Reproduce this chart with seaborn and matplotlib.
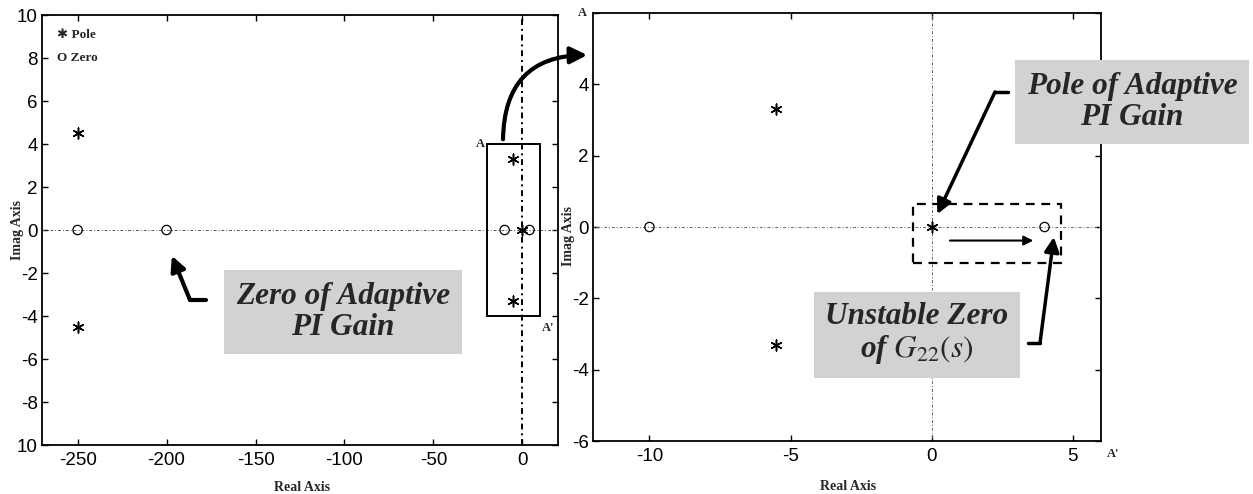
import numpy as np
import pandas as pd
import seaborn as sns
import matplotlib.pyplot as plt
from matplotlib.patches import Rectangle, FancyArrowPatch
from matplotlib.lines import Line2D

# poles and zeros of the loop (real, imag)
pole_re = [-250, -250, -5.5, -5.5, 0]
pole_im = [4.5, -4.5, 3.3, -3.3, 0]
zero_re = [-250, -200, -10, 4]
zero_im = [0, 0, 0, 0]

left_xticks = [-250, -200, -150, -100, -50, 0]
left_yticks = [-10, -8, -6, -4, -2, 0, 2, 4, 6, 8, 10]
left_ylabels = ['10', '-8', '-6', '-4', '-2', '0', '2', '4', '6', '8', '10']
right_xticks = [-10, -5, 0, 5]
right_yticks = [-6, -4, -2, 0, 2, 4, 6]
right_ylabels = ['-6', '-4', '-2', '0', '2', '4', '']

poles = pd.DataFrame({"re": pole_re, "im": pole_im})
zeros = pd.DataFrame({"re": zero_re, "im": zero_im})

sns.set_theme(style="white")
plt.rcParams['font.family'] = ['Liberation Sans Narrow', 'Liberation Sans', 'DejaVu Sans']
plt.rcParams['mathtext.fontset'] = 'stix'
plt.rcParams['axes.unicode_minus'] = False

W, H = 1253, 494
fig = plt.figure(figsize=(W / 100, H / 100), dpi=100)


def fx(x, y):
    return (x / W, 1 - y / H)


SERIF = ['Liberation Serif', 'DejaVu Serif']
SYM = ['Liberation Serif', 'DejaVu Sans']

ax1 = fig.add_axes([42 / W, 1 - 445 / H, (558 - 42) / W, (445 - 15) / H])
ax2 = fig.add_axes([593 / W, 1 - 441 / H, (1101 - 593) / W, (441 - 13) / H])


def draw_pz(ax):
    sns.scatterplot(data=poles, x="re", y="im", ax=ax, marker=(6, 2, 0),
                    s=60, color="black", linewidth=1.1, zorder=4, legend=False)
    sns.scatterplot(data=zeros, x="re", y="im", ax=ax, marker="o", s=45,
                    facecolor="none", edgecolor="black", linewidth=0.9,
                    zorder=4, legend=False)


draw_pz(ax1)
draw_pz(ax2)

ax1.set_xlim(-270, 20)
ax1.set_ylim(-10, 10)
ax1.set_xticks(left_xticks)
ax1.set_yticks(left_yticks)
ax1.set_yticklabels(left_ylabels)
ax1.axhline(0, color="#555555", lw=0.7, ls=(0, (3, 2, 1, 2)), zorder=1)
ax1.axvline(0, color="black", lw=1.4, ls=(0, (3, 2, 1, 2)), zorder=1)

ax2.set_xlim(-12, 6)
ax2.set_ylim(-6, 6)
ax2.set_xticks(right_xticks)
ax2.set_yticks(right_yticks)
ax2.set_yticklabels(right_ylabels)
ax2.axhline(0, color="#666666", lw=0.7, ls=(0, (1, 2, 3, 2)), zorder=1)
ax2.axvline(0, color="#666666", lw=0.7, ls=(0, (1, 2, 3, 2)), zorder=1)

for ax in (ax1, ax2):
    for sp in ax.spines.values():
        sp.set_color("black")
        sp.set_linewidth(1.3)
    ax.tick_params(direction="in", length=4, width=1, colors="black",
                   top=True, right=True, bottom=True, left=True,
                   labelsize=13.5, pad=5)
    ax.tick_params(axis="y", pad=3)
    ax.set_xlabel("Real Axis", family=SERIF, fontweight="bold", fontsize=10, va="center")
    ax.set_ylabel("Imag Axis", family=SERIF, fontweight="bold", fontsize=10,
                  va="center", ha="center")

ax1.xaxis.set_label_coords(0.504, -0.098)
ax1.yaxis.set_label_coords(-0.048, 0.5)
ax2.xaxis.set_label_coords(0.502, -0.107)
ax2.yaxis.set_label_coords(-0.048, 0.48)

# legend-like text
ax1.text(0.029, 0.953, "✱ Pole", transform=ax1.transAxes, family=SYM,
         fontweight="bold", fontsize=9.5, va="center")
ax1.text(0.029, 0.9, "O Zero", transform=ax1.transAxes, family=SERIF,
         fontweight="bold", fontsize=9.5, va="center")

# zoom window A-A' in left plot
ax1.add_patch(Rectangle((-20, -4), 30, 8, fill=False, ec="black", lw=1.4, zorder=3))
ax1.text(-21, 4, "A", family=SERIF, fontweight="bold", fontsize=9, ha="right", va="center")
ax1.text(11, -4.3, "A'", family=SERIF, fontweight="bold", fontsize=9, ha="left", va="top")
ax2.text(-12.2, 6, "A", family=SERIF, fontweight="bold", fontsize=9, ha="right", va="center")
ax2.text(6.2, -6.2, "A'", family=SERIF, fontweight="bold", fontsize=9, ha="left", va="top")

# dashed window in right plot
ax2.add_patch(Rectangle((-0.65, -1.0), 5.25, 1.65, fill=False, ec="black",
                        lw=1.6, ls=(0, (4, 3)), zorder=3))
ax2.annotate("", xy=(3.7, -0.38), xytext=(0.55, -0.38),
             arrowprops=dict(arrowstyle="-|>", color="black", lw=1.5,
                             mutation_scale=14))

# curved arrow between panels
fig.patches.append(FancyArrowPatch(fx(503, 142), fx(590, 55), transform=fig.transFigure,
                                   connectionstyle="arc3,rad=-0.5", arrowstyle="-|>",
                                   mutation_scale=25, lw=3, color="black"))

box = dict(boxstyle="square,pad=0.38", fc="#d2d2d2", ec="none")
tfont = dict(family=SERIF, fontweight="bold", fontstyle="italic", fontsize=22.5,
             ha="center", va="center", linespacing=1.08)

fig.text(*fx(343, 312), "Zero of Adaptive\nPI Gain", bbox=box, **tfont)
fig.text(*fx(1132, 102), "Pole of Adaptive\nPI Gain", bbox=box, **tfont)
fig.text(*fx(917, 334), "Unstable Zero\nof $G_{22}(s)$", bbox=box, **tfont)


def bent_arrow(ax, tip, corner, end, lw):
    fig.lines.append(Line2D([corner[0] / W, end[0] / W], [1 - corner[1] / H, 1 - end[1] / H],
                            transform=fig.transFigure, color="black", lw=lw))
    ax.annotate("", xy=tip, xycoords="data", xytext=fx(*corner),
                textcoords="figure fraction",
                arrowprops=dict(arrowstyle="-|>", color="black", lw=lw,
                                mutation_scale=22, shrinkA=0, shrinkB=0))


bent_arrow(ax1, (-197, -1.2), (190, 300), (206, 300), 3)
bent_arrow(ax2, (0.2, 0.36), (995, 92), (1008, 92), 2.5)
bent_arrow(ax2, (4.33, -0.28), (1040, 343), (1028, 343), 2.5)

fig.savefig("out.png", dpi=100)
